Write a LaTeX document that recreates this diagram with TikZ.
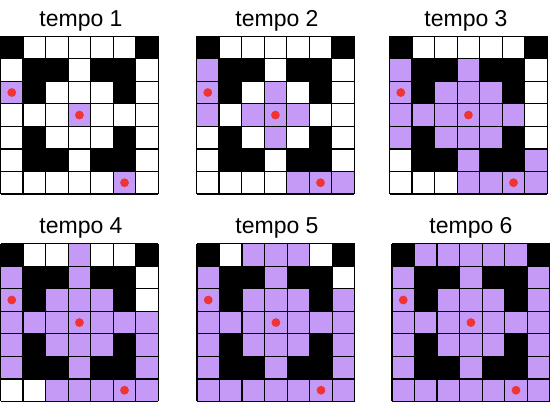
\documentclass[tikz,border=0pt]{standalone}
\usepackage{fontspec}
\setmainfont{Liberation Sans}
\usepackage{tikz}

\definecolor{lilac}{RGB}{196,154,246}
\definecolor{dotred}{RGB}{240,52,52}

\tikzset{
  title/.style={anchor=base, font=\fontsize{23}{28}\selectfont, inner sep=0pt},
  cellgrid/.style={step=1, color=black, line width=1.3pt},
}

\begin{document}
\begin{tikzpicture}[x=1pt, y=-1pt]
\useasboundingbox (0,0) rectangle (552,403);

\node[title] (t1) at (81,27) {tempo 1};
\node[title] (t2) at (277,27) {tempo 2};
\node[title] (t3) at (466,27) {tempo 3};
\node[title] (t4) at (81,234) {tempo 4};
\node[title] (t5) at (277,234) {tempo 5};
\node[title] (t6) at (471,234) {tempo 6};

% 8 = black square, otherwise the step at which the square turns lilac
\foreach \gx/\gy/\k in {0.5/194/1, 196.5/194/2, 389.5/194/3, 0.5/401.5/4, 197/401.5/5, 392/401.5/6} {
  \begin{scope}[shift={(\gx,\gy)}, x=22.55pt, y=22.55pt]
    \foreach \row [count=\r from 0] in {{8,5,4,3,4,5,8},{1,8,8,2,8,8,5},{0,8,2,1,2,8,4},{1,2,1,0,1,2,3},{2,8,2,1,2,8,3},{3,8,8,2,8,8,2},{4,4,3,2,1,0,1}} {
      \foreach \d [count=\c from 0] in \row {
        \ifnum\d=8
          \fill[black] (\c,6-\r) rectangle ++(1,1);
        \else\ifnum\d<\k
          \fill[lilac] (\c,6-\r) rectangle ++(1,1);
        \fi\fi
        \ifnum\d=0
          \fill[dotred] (\c+0.5,6.5-\r) circle (4.4pt);
        \fi
      }
    }
    \draw[cellgrid] (0,0) grid (7,7);
  \end{scope}
}
\end{tikzpicture}
\end{document}
